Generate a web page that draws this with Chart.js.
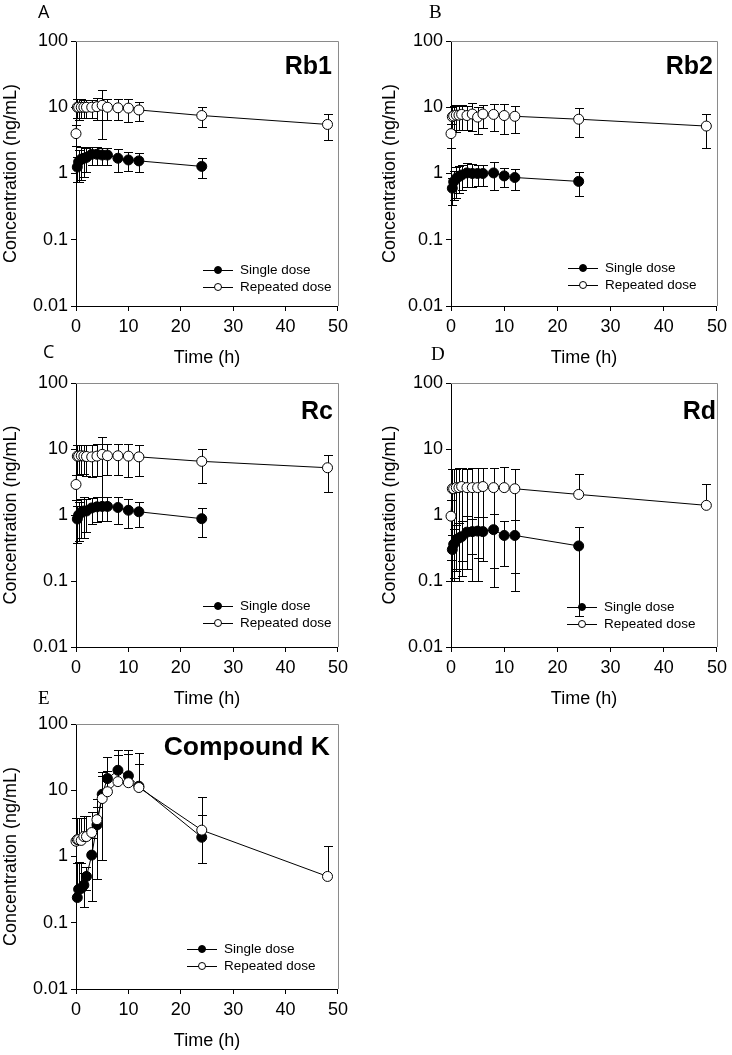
<!DOCTYPE html>
<html>
<head>
<meta charset="utf-8">
<script src="https://cdn.jsdelivr.net/npm/chart.js@4.4.1/dist/chart.umd.min.js"></script>
<style>
  html, body { margin: 0; padding: 0; background: #fff; }
  body { width: 732px; height: 1055px; position: relative; overflow: hidden; }
  canvas { position: absolute; }
  .letter { position: absolute; font-family: "Liberation Serif", "Times New Roman", serif; font-size: 19px; color: #000; line-height: 1; }
  .letter.sans { font-family: "Open Sans", "DejaVu Sans", sans-serif; font-size: 18px; }
  .name { position: absolute; font-family: "Liberation Sans", Arial, sans-serif; font-weight: bold; color: #000; line-height: 1; white-space: nowrap; }
</style>
</head>
<body>
<script>
// sampling times (h)
const singleTimes = [0.25, 0.5, 1, 1.5, 2, 3, 4, 5, 6, 8, 10, 12, 24];
const repeatedTimes = [0, 0.25, 0.5, 1, 1.5, 2, 3, 4, 5, 6, 8, 10, 12, 24, 48];

const xTicks = [0, 10, 20, 30, 40, 50];
const yTicks = [0.01, 0.1, 1, 10, 100];

const seriesNames = ['Single dose', 'Repeated dose'];

// Rb1
const rb1Single = [1.25, 1.5, 1.65, 1.7, 1.75, 1.95, 1.95, 1.9, 1.9, 1.7, 1.6, 1.55, 1.28];
const rb1SingleSd = [0.5, 0.75, 0.85, 0.8, 0.7, 0.6, 0.6, 0.55, 0.55, 0.65, 0.5, 0.5, 0.42];
const rb1Repeated = [4.0, 10, 10, 10, 10, 10, 10, 10.2, 10.7, 10, 9.8, 9.7, 9.1, 7.5, 5.5];
const rb1RepeatedSd = [1.4, 3.2, 3.5, 3.2, 3, 3, 3, 3.8, 7.4, 3.5, 3.3, 3.7, 2.9, 2.5, 2.3];

// Rb2
const rb2Single = [0.6, 0.75, 0.85, 0.9, 0.95, 1.02, 1.0, 1.0, 1.0, 1.02, 0.92, 0.87, 0.76];
const rb2SingleSd = [0.27, 0.35, 0.42, 0.4, 0.38, 0.4, 0.37, 0.36, 0.35, 0.45, 0.3, 0.3, 0.3];
const rb2Repeated = [4.0, 7.2, 7.4, 7.6, 7.6, 7.8, 7.5, 7.9, 7.1, 7.9, 7.8, 7.5, 7.3, 6.6, 5.2];
const rb2RepeatedSd = [1.6, 3.0, 3.2, 3.3, 3.0, 3.2, 3.0, 3.5, 3.1, 3.1, 3.4, 3.6, 3.2, 3.0, 2.8];

// Rc
const rcSingle = [0.87, 1.0, 1.1, 1.15, 1.15, 1.28, 1.33, 1.35, 1.35, 1.3, 1.18, 1.12, 0.88];
const rcSingleSd = [0.5, 0.6, 0.65, 0.7, 0.6, 0.55, 0.55, 0.55, 0.55, 0.58, 0.55, 0.47, 0.41];
const rcRepeated = [2.9, 7.8, 7.8, 7.9, 7.8, 7.7, 7.6, 7.8, 8.3, 7.9, 7.9, 7.8, 7.6, 6.5, 5.2];
const rcRepeatedSd = [1.2, 3.7, 3.7, 3.7, 3.6, 3.8, 3.8, 3.9, 6.8, 3.9, 3.9, 4.1, 3.7, 3.4, 3.0];

// Rd
const rdSingle = [0.3, 0.36, 0.42, 0.45, 0.47, 0.55, 0.56, 0.57, 0.56, 0.6, 0.49, 0.49, 0.34];
const rdSingleSd = [0.2, 0.25, 0.28, 0.3, 0.35, 0.4, 0.3, 0.35, 0.36, 0.44, 0.32, 0.36, 0.31];
const rdRepeated = [0.96, 2.5, 2.5, 2.6, 2.6, 2.7, 2.6, 2.6, 2.6, 2.7, 2.6, 2.6, 2.5, 2.05, 1.4];
const rdRepeatedSd = [0.75, 2.4, 2.4, 2.45, 2.5, 2.5, 2.45, 2.5, 2.5, 2.5, 2.52, 2.7, 2.43, 2.1, 1.5];

// Compound K
const ckSingle = [0.24, 0.32, 0.33, 0.37, 0.5, 1.05, 3.0, 8.7, 15, 20, 16.5, 11.5, 1.95];
const ckSingleSd = [0.55, 0.5, 0.47, 0.2, 0.19, 0.84, 2.55, 7.8, 17, 21, 23.5, 25, 6];
const ckRepeated = [1.7, 1.8, 1.8, 1.75, 2.0, 2.0, 2.3, 3.6, 7.5, 9.5, 13.5, 13, 11, 2.5, 0.5];
const ckRepeatedSd = [2.1, 2.0, 2.0, 2.05, 2.1, 2.1, 2.4, 3.7, 11.5, 10, 21, 22, 14, 1.7, 0.95];

// panel layout: plot area in page pixels, plus label placement
const panels = [
  { id: 'A', name: 'Rb1', single: rb1Single, singleSd: rb1SingleSd, repeated: rb1Repeated, repeatedSd: rb1RepeatedSd,
    L: 76, T: 41, R: 341, B: 306, yw: 76, letter: [38, 2], serif: false, nameInset: 9, nameDy: 24, nameSize: 25, legend: [142, 36] },
  { id: 'B', name: 'Rb2', single: rb2Single, singleSd: rb2SingleSd, repeated: rb2Repeated, repeatedSd: rb2RepeatedSd,
    L: 451, T: 41, R: 720, B: 306, yw: 72, letter: [429, 2], serif: true, nameInset: 7, nameDy: 24, nameSize: 25, legend: [132, 38] },
  { id: 'C', name: 'Rc', single: rcSingle, singleSd: rcSingleSd, repeated: rcRepeated, repeatedSd: rcRepeatedSd,
    L: 76, T: 383, R: 341, B: 647, yw: 76, letter: [43, 342], serif: false, nameInset: 8, nameDy: 27, nameSize: 25, legend: [142, 41] },
  { id: 'D', name: 'Rd', single: rdSingle, singleSd: rdSingleSd, repeated: rdRepeated, repeatedSd: rdRepeatedSd,
    L: 451, T: 383, R: 720, B: 647, yw: 72, letter: [431, 344], serif: true, nameInset: 4, nameDy: 27, nameSize: 25, legend: [131, 40] },
  { id: 'E', name: 'Compound K', single: ckSingle, singleSd: ckSingleSd, repeated: ckRepeated, repeatedSd: ckRepeatedSd,
    L: 76, T: 724, R: 341, B: 989, yw: 76, letter: [38, 688], serif: true, nameInset: 11, nameDy: 22, nameSize: 26.5, legend: [126, 40] }
];

const PAD_TOP = 41;
const PAD_RIGHT = 12;
const X_HEIGHT = 66;

const errorBars = {
  id: 'errorBars',
  beforeDatasetsDraw(chart) {
    const { ctx, scales: { x, y } } = chart;
    ctx.save();
    ctx.strokeStyle = '#000';
    ctx.lineWidth = 1;
    chart.data.datasets.forEach(ds => {
      ds.data.forEach((p, i) => {
        const sd = ds.sd[i];
        const px = Math.round(x.getPixelForValue(p.x)) + 0.5;
        const top = Math.round(y.getPixelForValue(p.y + sd)) + 0.5;
        const lo = p.y - sd;
        const bottom = lo > 0 ? Math.round(y.getPixelForValue(Math.max(lo, 0.01))) + 0.5 : y.getPixelForValue(p.y);
        ctx.beginPath();
        ctx.moveTo(px, top);
        ctx.lineTo(px, bottom);
        ctx.moveTo(px - 4.5, top);
        ctx.lineTo(px + 4.5, top);
        if (lo > 0) {
          ctx.moveTo(px - 4.5, bottom);
          ctx.lineTo(px + 4.5, bottom);
        }
        ctx.stroke();
      });
    });
    ctx.restore();
  }
};

const frame = {
  id: 'frame',
  beforeDatasetsDraw(chart) {
    const { ctx, chartArea: a } = chart;
    ctx.save();
    ctx.strokeStyle = '#8a8a8a';
    ctx.lineWidth = 1;
    ctx.beginPath();
    ctx.moveTo(a.left, a.top + 0.5);
    ctx.lineTo(a.right + 0.5, a.top + 0.5);
    ctx.lineTo(a.right + 0.5, a.bottom);
    ctx.stroke();
    ctx.restore();
  }
};

const doseLegend = {
  id: 'doseLegend',
  afterDraw(chart, args, opts) {
    const { ctx, chartArea: a } = chart;
    const cx = a.left + opts.dx;
    let cy = a.bottom - opts.dy;
    ctx.save();
    ctx.font = '13.5px "Liberation Sans", Arial, sans-serif';
    ctx.textBaseline = 'middle';
    seriesNames.forEach((label, i) => {
      ctx.strokeStyle = '#000';
      ctx.lineWidth = 1;
      ctx.beginPath();
      ctx.moveTo(cx - 15, Math.round(cy) + 0.5);
      ctx.lineTo(cx + 15, Math.round(cy) + 0.5);
      ctx.stroke();
      ctx.beginPath();
      ctx.arc(cx, cy, 3.5, 0, Math.PI * 2);
      ctx.fillStyle = i === 0 ? '#000' : '#fff';
      ctx.fill();
      ctx.stroke();
      ctx.fillStyle = '#000';
      ctx.fillText(label, cx + 22, cy + 0.5);
      cy += 17;
    });
    ctx.restore();
  }
};

function toPoints(times, values) {
  return times.map((t, i) => ({ x: t, y: values[i] }));
}

function addLabels(p) {
  const letter = document.createElement('div');
  letter.className = 'letter' + (p.serif ? '' : ' sans');
  letter.textContent = p.id;
  letter.style.left = p.letter[0] + 'px';
  letter.style.top = p.letter[1] + 'px';
  document.body.appendChild(letter);

  const name = document.createElement('div');
  name.className = 'name';
  name.textContent = p.name;
  name.style.fontSize = p.nameSize + 'px';
  name.style.right = (732 - (p.R - p.nameInset)) + 'px';
  name.style.top = (p.T + p.nameDy - p.nameSize * 0.5) + 'px';
  document.body.appendChild(name);
}

function drawPanel(p) {
  const canvas = document.createElement('canvas');
  const w = (p.R - p.L) + p.yw + PAD_RIGHT;
  const h = (p.B - p.T) + PAD_TOP + X_HEIGHT;
  canvas.width = w;
  canvas.height = h;
  canvas.style.left = (p.L - p.yw) + 'px';
  canvas.style.top = (p.T - PAD_TOP) + 'px';
  canvas.style.width = w + 'px';
  canvas.style.height = h + 'px';
  document.body.appendChild(canvas);

  const tickFont = { family: '"Liberation Sans", Arial, sans-serif', size: 18 };
  const titleFont = { family: '"Liberation Sans", Arial, sans-serif', size: 18 };

  new Chart(canvas, {
    type: 'line',
    data: {
      datasets: [
        {
          label: seriesNames[0],
          data: toPoints(singleTimes, p.single),
          sd: p.singleSd,
          order: 1,
          borderColor: '#000',
          borderWidth: 1,
          pointRadius: 5,
          pointBackgroundColor: '#000',
          pointBorderColor: '#000',
          pointBorderWidth: 1,
          tension: 0,
          clip: false
        },
        {
          label: seriesNames[1],
          data: toPoints(repeatedTimes, p.repeated),
          sd: p.repeatedSd,
          order: 0,
          borderColor: '#000',
          borderWidth: 1,
          pointRadius: 5,
          pointBackgroundColor: '#fff',
          pointBorderColor: '#000',
          pointBorderWidth: 1,
          tension: 0,
          clip: false
        }
      ]
    },
    options: {
      responsive: false,
      devicePixelRatio: 1,
      animation: false,
      events: [],
      layout: { padding: { left: 0, top: PAD_TOP, right: PAD_RIGHT, bottom: 0 } },
      plugins: {
        legend: { display: false },
        tooltip: { enabled: false },
        doseLegend: { dx: p.legend[0], dy: p.legend[1] }
      },
      scales: {
        x: {
          type: 'linear',
          min: 0,
          max: 50,
          afterBuildTicks: s => { s.ticks = xTicks.map(v => ({ value: v })); },
          afterFit: s => { s.height = X_HEIGHT; },
          ticks: { color: '#000', font: tickFont, padding: 5, maxRotation: 0 },
          grid: { display: true, drawOnChartArea: false, drawTicks: true, tickLength: 5, color: '#000' },
          border: { display: true, color: '#000', width: 1 },
          title: { display: true, text: 'Time (h)', color: '#000', font: titleFont, padding: { top: 0, bottom: 3 } }
        },
        y: {
          type: 'logarithmic',
          min: 0.01,
          max: 100,
          afterBuildTicks: s => { s.ticks = yTicks.map(v => ({ value: v })); },
          afterFit: s => { s.width = p.yw; },
          ticks: { color: '#000', font: tickFont, padding: 3, callback: v => String(v) },
          grid: { display: true, drawOnChartArea: false, drawTicks: true, tickLength: 5, color: '#000' },
          border: { display: true, color: '#000', width: 1 },
          title: { display: true, text: 'Concentration (ng/mL)', color: '#000', font: titleFont, padding: { top: 0, bottom: 0 } }
        }
      }
    },
    plugins: [frame, errorBars, doseLegend]
  });

  addLabels(p);
}

panels.forEach(drawPanel);
</script>
</body>
</html>
